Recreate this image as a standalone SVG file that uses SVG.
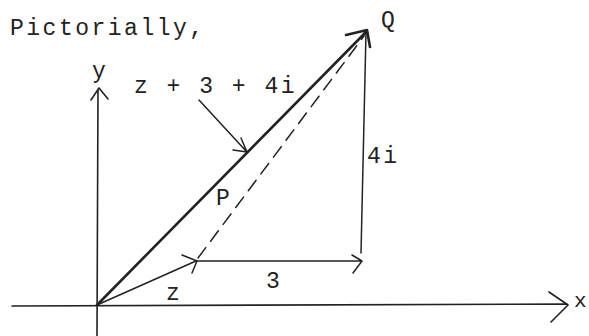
<svg xmlns="http://www.w3.org/2000/svg" width="589" height="336" viewBox="0 0 589 336">
<defs>
<style>
.t{font-family:"Liberation Mono","Courier New",monospace;font-size:23px;fill:#222;letter-spacing:2.5px}
.s{letter-spacing:0}
.ln{stroke:#222;fill:none;stroke-linecap:round;stroke-linejoin:round}
</style>
</defs>
<rect width="589" height="336" fill="#fff"/>
<text class="t" x="10" y="35">Pictorially,</text>
<g id="connectors">
<path id="x-axis" class="ln" stroke-width="1.6" d="M12 306 L567 304 M549 292 L568 305 L551 322"/>
<path id="y-axis" class="ln" stroke-width="1.6" d="M97 336 L98 89 M91 100 L99 88 L108 99"/>
<path id="OQ" class="ln" stroke-width="2.6" d="M97 305 L366 32 M346 35 L367 30 L370 47"/>
<path id="z-vec" class="ln" stroke-width="1.5" d="M97 305 L196 261 M182 255 L197 261 L192 273"/>
<path id="three" class="ln" stroke-width="1.5" d="M197 261 L361 261 M352 255 L362 261 L353 273"/>
<path id="four" class="ln" stroke-width="1.5" d="M361 253 L366 32"/>
<path id="PQ" class="ln" stroke-width="1.5" stroke-dasharray="13 8" d="M198 258 L364 36"/>
<path id="callout" class="ln" stroke-width="1.5" d="M199 100 L246 151 M233 150 L247 152 L241 138"/>
</g>
<g id="label-y"><text class="t s" x="92" y="78">y</text></g>
<g id="label-sum"><text class="t" x="134" y="93">z + 3 + 4i</text></g>
<g id="label-Q"><text class="t s" x="381" y="27">Q</text></g>
<g id="label-4i"><text class="t" x="367" y="163">4i</text></g>
<g id="label-P"><text class="t s" x="216" y="205">P</text></g>
<g id="label-z"><text class="t s" x="166" y="300">z</text></g>
<g id="label-3"><text class="t s" x="266" y="288">3</text></g>
<g id="label-x"><text class="t s" x="574" y="307" style="font-size:21px">x</text></g>
</svg>
